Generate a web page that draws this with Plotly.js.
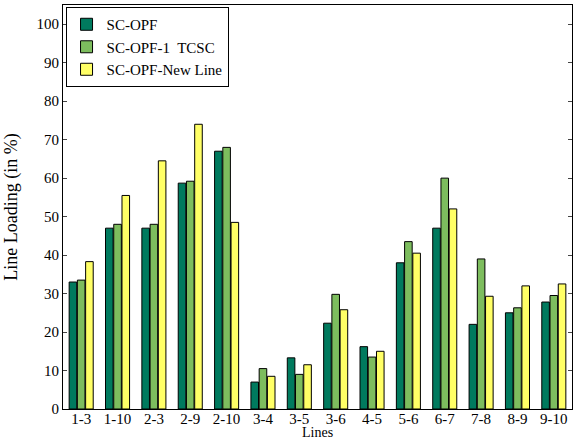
<!DOCTYPE html>
<html><head><script src="https://cdn.plot.ly/plotly-3.0.1.min.js"></script></head>
<body style="margin:0"><div id="plot" style="width:576px;height:439px"></div>
<script>
const lines = ['1-3','1-10','2-3','2-9','2-10','3-4','3-5','3-6','4-5','5-6','6-7','7-8','8-9','9-10'];
const scOpf = [33,47,47,58.7,67,7,13.3,22.3,16.2,38,47,22,25,27.8];
const scOpfTcsc = [33.5,48,48,59.2,68,10.5,9,29.8,13.5,43.5,60,39,26.3,29.5];
const scOpfNewLine = [38.3,55.5,64.5,74,48.5,8.5,11.5,25.8,15,40.5,52,29.3,32,32.5];

const mk = (y, name, color) => ({
    x: lines, y: y, name: name, type: 'bar',
    marker: {color: color, line: {color: '#000', width: 1}},
});
const data = [
    mk(scOpf, 'SC-OPF', '#007a5e'),
    mk(scOpfTcsc, 'SC-OPF-1  TCSC', '#7dbd5e'),
    mk(scOpfNewLine, 'SC-OPF-New Line', '#ffff66'),
];
const layout = {
    width: 576, height: 439,
    margin: {l: 63, r: 4, t: 5, b: 30},
    font: {family: 'Liberation Serif, Times New Roman, serif', size: 15, color: '#000'},
    barmode: 'group', bargap: 0.32, bargroupgap: 0.08,
    showlegend: true,
    legend: {x: 0.005, y: 0.995, bgcolor: '#fff', bordercolor: '#000', borderwidth: 1,
             tracegroupgap: 0, font: {size: 15}, itemwidth: 30},
    xaxis: {showline: true, mirror: true, linecolor: '#000', ticks: '', ticklabelstandoff: -4},
    yaxis: {title: {text: 'Line Loading (in %)'}, range: [0, 105], dtick: 10, showline: true, mirror: 'ticks',
            linecolor: '#000', ticks: 'inside', ticklen: 4, showgrid: false, zeroline: false},
    annotations: [{text: 'Lines', xref: 'paper', yref: 'paper', x: 0.5, y: -0.057, yanchor: 'middle',
                   showarrow: false, font: {size: 14}}],
    plot_bgcolor: '#fff', paper_bgcolor: '#fff',
};
Plotly.newPlot('plot', data, layout, {displayModeBar: false});
</script></body></html>
